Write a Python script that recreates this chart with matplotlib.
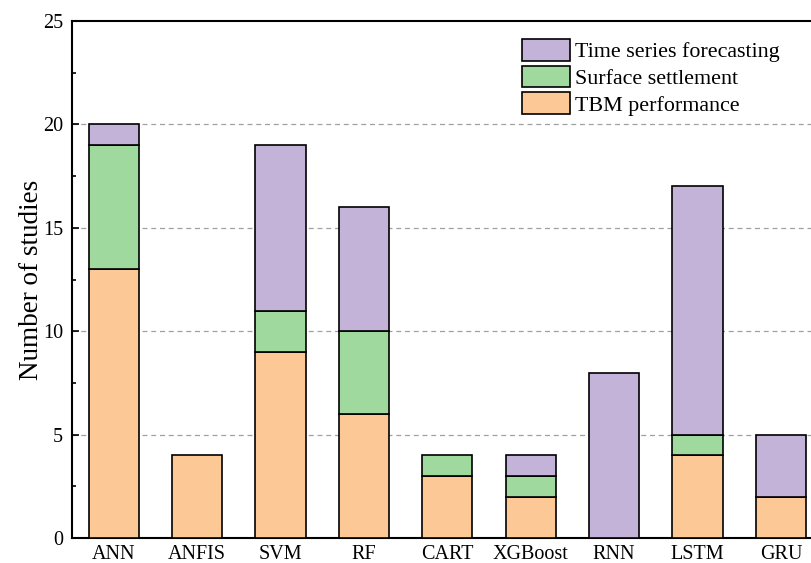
import numpy as np
import matplotlib.pyplot as plt
from matplotlib.ticker import MultipleLocator

models = ['ANN', 'ANFIS', 'SVM', 'RF', 'CART', 'XGBoost', 'RNN', 'LSTM', 'GRU']
tbm = [13, 4, 9, 6, 3, 2, 0, 4, 2]
settlement = [6, 0, 2, 4, 1, 1, 0, 1, 0]
forecasting = [1, 0, 8, 6, 0, 1, 8, 12, 3]

plt.rcParams['font.family'] = ['Liberation Serif', 'DejaVu Serif']

fig = plt.figure(figsize=[8.11, 5.63], dpi=100)
ax = fig.add_axes([72/811, 25/563, 739/811, 517/563])

x = np.arange(len(models))
tbm = np.array(tbm)
settlement = np.array(settlement)
forecasting = np.array(forecasting)

w = 0.6
# skip zero-height segments so no stray outlines are drawn
def stack(vals, bottom, color, label):
    m = vals > 0
    ax.bar(x[m], vals[m], w, bottom=bottom[m], color=color,
           edgecolor='black', linewidth=1.2, label=label, zorder=3)

zero = np.zeros(len(models))
stack(tbm, zero, '#fcc896', 'TBM performance')
stack(settlement, tbm, '#a0d99e', 'Surface settlement')
stack(forecasting, tbm + settlement, '#c3b3d8', 'Time series forecasting')

ax.set_xlim(-0.5, -0.5 + 739/83.4)
ax.set_ylim(0, 25)
ax.set_xticks(x)
ax.set_xticklabels(models, fontsize=14.5)
ax.yaxis.set_major_locator(MultipleLocator(5))
ax.yaxis.set_minor_locator(MultipleLocator(2.5))
ax.tick_params(axis='y', which='major', direction='in', length=5, width=1.2,
               labelsize=14.5, pad=6.5)
ax.tick_params(axis='y', which='minor', direction='in', length=3, width=1.2)
ax.tick_params(axis='x', direction='in', length=5, width=1.2, pad=5)
ax.set_ylabel('Number of studies', fontsize=19.5, labelpad=-1)

for yv in [5, 10, 15, 20]:
    ax.axhline(yv, color='#a0a0a0', linestyle=(0, (4, 3)), linewidth=0.9, zorder=1)

for s in ['left', 'bottom', 'top']:
    ax.spines[s].set_linewidth(1.5)
ax.spines['right'].set_visible(False)

handles, labels = ax.get_legend_handles_labels()
ax.legend(handles[::-1], labels[::-1], loc='upper right', bbox_to_anchor=(0.958, 0.965),
          frameon=False, fontsize=15.8, handlelength=2.2, handleheight=1.15,
          labelspacing=0.15, handletextpad=0.25, borderaxespad=0, borderpad=0)

fig.savefig('out.png', dpi=100)
